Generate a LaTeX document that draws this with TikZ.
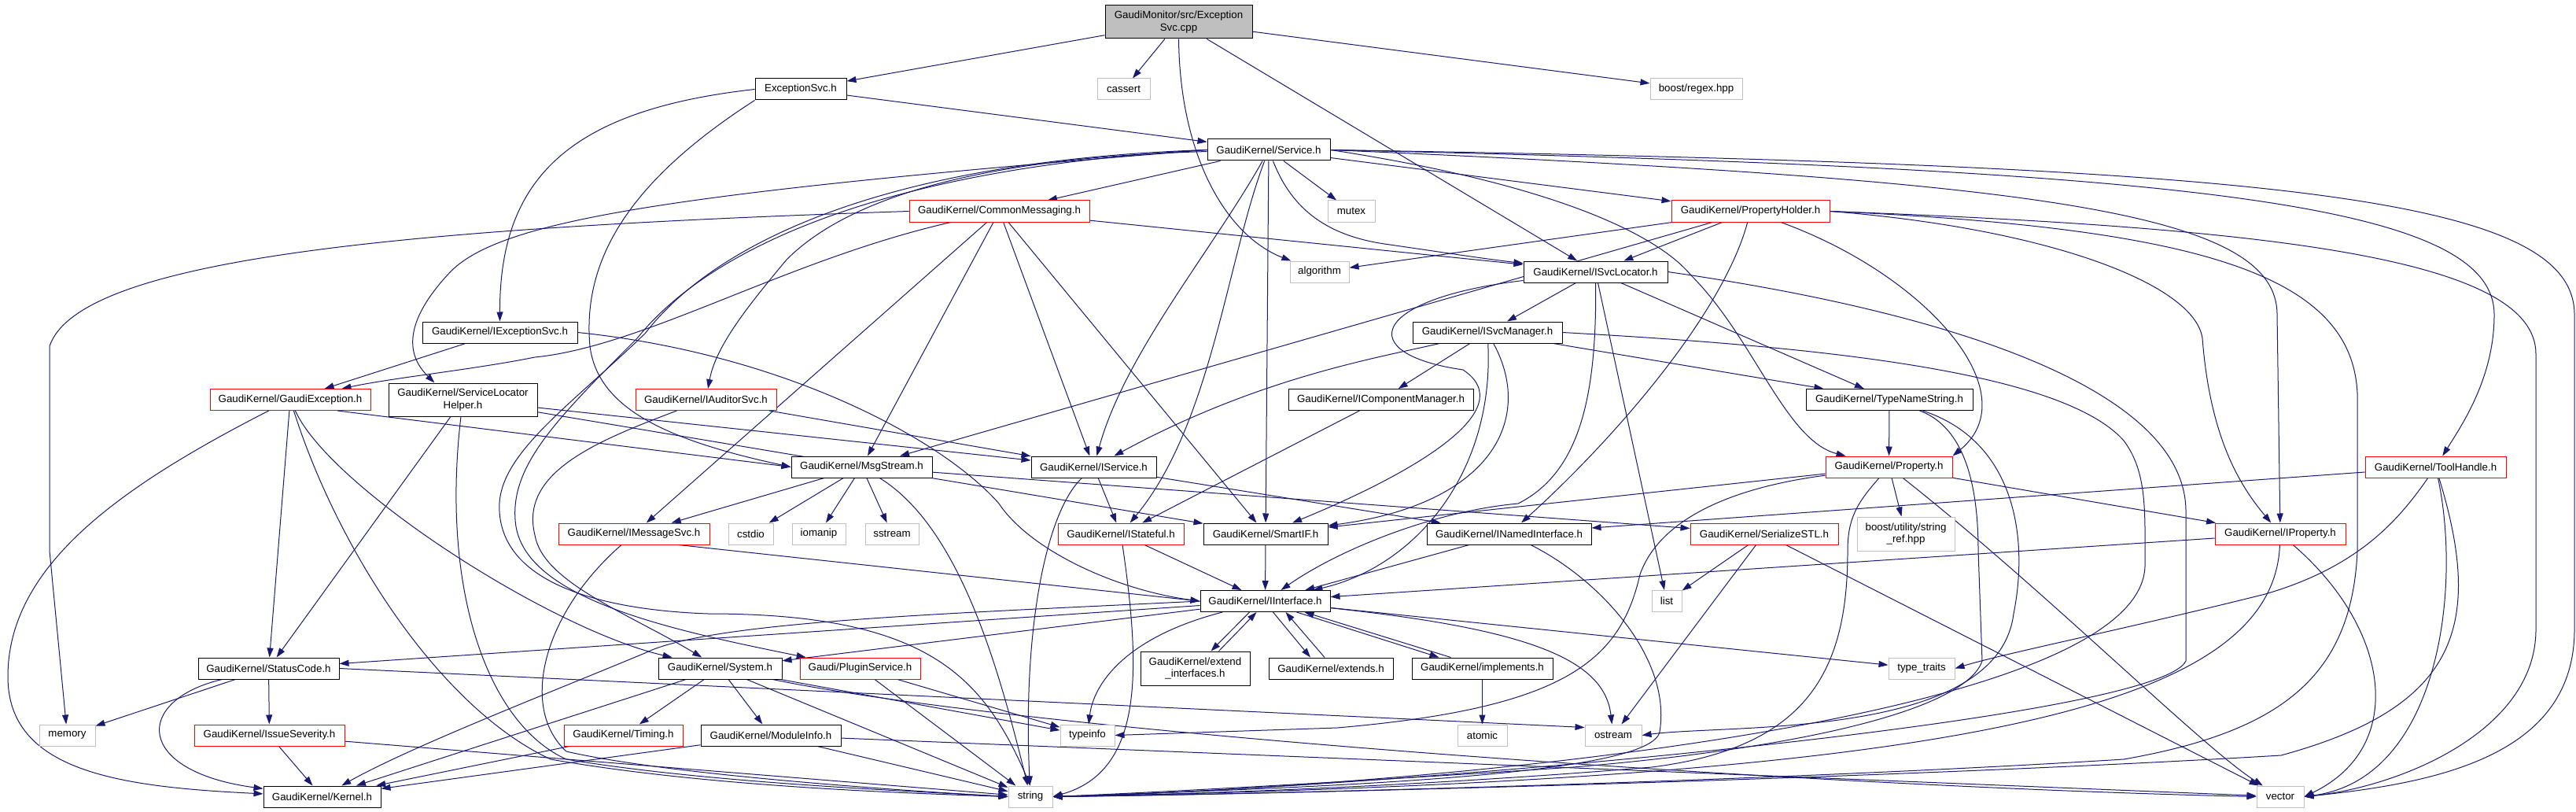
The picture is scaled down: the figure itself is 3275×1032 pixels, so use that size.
\documentclass[tikz,border=0pt]{standalone}
\usepackage{fontspec}
\setmainfont{Liberation Sans}
\usetikzlibrary{arrows.meta}
\definecolor{edgeblue}{HTML}{191970}
\definecolor{lgray}{HTML}{BFBFBF}
\pgfdeclarelayer{edgelayer}
\pgfsetlayers{edgelayer,main}
\begin{document}
\begin{tikzpicture}[x=1pt,y=-1pt,
  box/.style={draw=black, fill=white, rectangle, inner sep=0pt, minimum height=27pt, font=\fontsize{13.3}{15.5}\selectfont, align=center, line width=1pt},
  sysbox/.style={box, draw=lgray},
  redbox/.style={box, draw=red},
  e/.style={draw=edgeblue, line width=1pt, -{Triangle[length=12pt,width=8pt]}}]
\useasboundingbox (0,0) rectangle (3275,1032);
% nodes
\node[box, fill=lgray, minimum width=187pt, minimum height=42pt] (root) at (1498.5,28) {GaudiMonitor/src/Exception\\Svc.cpp};
\node[box, minimum width=116pt] (exh) at (1018,113.5) {ExceptionSvc.h};
\node[sysbox, minimum width=67pt] (cassert) at (1428.5,113.5) {cassert};
\node[sysbox, minimum width=117pt] (regex) at (2156.5,113.5) {boost/regex.hpp};
\node[box, minimum width=156pt] (svc) at (1613,190.5) {GaudiKernel/Service.h};
\node[redbox, minimum width=229pt] (cm) at (1270.5,268.5) {GaudiKernel/CommonMessaging.h};
\node[sysbox, minimum width=60pt] (mutex) at (1718,268.5) {mutex};
\node[redbox, minimum width=201pt] (ph) at (2225.5,268.5) {GaudiKernel/PropertyHolder.h};
\node[sysbox, minimum width=75pt] (alg) at (1677.5,345.5) {algorithm};
\node[box, minimum width=183pt] (isl) at (2028.5,345.5) {GaudiKernel/ISvcLocator.h};
\node[box, minimum width=197pt] (iexc) at (635.5,422.5) {GaudiKernel/IExceptionSvc.h};
\node[box, minimum width=190pt] (ism) at (1891,422.5) {GaudiKernel/ISvcManager.h};
\node[redbox, minimum width=204pt] (gex) at (369,508) {GaudiKernel/GaudiException.h};
\node[box, minimum width=189pt, minimum height=42pt] (slh) at (588.5,508) {GaudiKernel/ServiceLocator\\Helper.h};
\node[redbox, minimum width=179pt] (ias) at (897.5,508) {GaudiKernel/IAuditorSvc.h};
\node[box, minimum width=235pt] (icm) at (1755.5,508) {GaudiKernel/IComponentManager.h};
\node[box, minimum width=212pt] (tns) at (2402,508) {GaudiKernel/TypeNameString.h};
\node[box, minimum width=179pt] (msg) at (1095.5,593.5) {GaudiKernel/MsgStream.h};
\node[box, minimum width=159pt] (isv) at (1390.5,593.5) {GaudiKernel/IService.h};
\node[redbox, minimum width=161pt] (prop) at (2401.5,593.5) {GaudiKernel/Property.h};
\node[redbox, minimum width=179pt] (th) at (3096.5,593.5) {GaudiKernel/ToolHandle.h};
\node[redbox, minimum width=192pt] (ims) at (806,678.5) {GaudiKernel/IMessageSvc.h};
\node[sysbox, minimum width=57pt] (cstdio) at (954.5,678.5) {cstdio};
\node[sysbox, minimum width=68pt] (iomanip) at (1041,678.5) {iomanip};
\node[sysbox, minimum width=68pt] (sstream) at (1134,678.5) {sstream};
\node[redbox, minimum width=160pt] (ist) at (1425,678.5) {GaudiKernel/IStateful.h};
\node[box, minimum width=158pt] (sif) at (1609,678.5) {GaudiKernel/SmartIF.h};
\node[box, minimum width=209pt] (ini) at (1918.5,678.5) {GaudiKernel/INamedInterface.h};
\node[redbox, minimum width=188pt] (sstl) at (2243,678.5) {GaudiKernel/SerializeSTL.h};
\node[sysbox, minimum width=124pt, minimum height=43pt] (sref) at (2423,678.5) {boost/utility/string\\\_ref.hpp};
\node[redbox, minimum width=166pt] (iprop) at (2899,678.5) {GaudiKernel/IProperty.h};
\node[box, minimum width=165pt] (iint) at (1608.5,764) {GaudiKernel/IInterface.h};
\node[sysbox, minimum width=38pt] (list) at (2119,764) {list};
\node[box, minimum width=179pt] (stc) at (341.5,849.5) {GaudiKernel/StatusCode.h};
\node[box, minimum width=157pt] (sys) at (915.5,849.5) {GaudiKernel/System.h};
\node[redbox, minimum width=153pt] (plug) at (1093.5,849.5) {Gaudi/PluginService.h};
\node[box, minimum width=139pt, minimum height=43pt] (exti) at (1519.5,849.5) {GaudiKernel/extend\\\_interfaces.h};
\node[box, minimum width=158pt] (exts) at (1692,849.5) {GaudiKernel/extends.h};
\node[box, minimum width=179pt] (impl) at (1884.5,849.5) {GaudiKernel/implements.h};
\node[sysbox, minimum width=84pt] (tt) at (2443,849.5) {type\_traits};
\node[sysbox, minimum width=71pt] (mem) at (85.5,934.5) {memory};
\node[redbox, minimum width=191pt] (isev) at (342.5,934.5) {GaudiKernel/IssueSeverity.h};
\node[redbox, minimum width=151pt] (tim) at (792.5,934.5) {GaudiKernel/Timing.h};
\node[box, minimum width=178pt] (mod) at (980,934.5) {GaudiKernel/ModuleInfo.h};
\node[sysbox, minimum width=69pt] (tinfo) at (1382.5,934.5) {typeinfo};
\node[sysbox, minimum width=63pt] (atomic) at (1884.5,934.5) {atomic};
\node[sysbox, minimum width=72pt] (ostream) at (2051,934.5) {ostream};
\node[box, minimum width=149pt] (kern) at (409.5,1012.5) {GaudiKernel/Kernel.h};
\node[sysbox, minimum width=56pt] (string) at (1310,1012.5) {string};
\node[sysbox, minimum width=60pt] (vector) at (2899,1012.5) {vector};
\begin{pgfonlayer}{edgelayer}
% edges: root
\draw[e] (root) -- (exh);
\draw[e] (root) -- (cassert);
\draw[e] (root.south) .. controls (1500,200) and (1560,300) .. (alg);
\draw[e] (root) -- (isl);
\draw[e] (root) -- (regex);
% ExceptionSvc.h
\draw[e] (exh) -- (svc);
\draw[e] (exh.west) .. controls (720,140) and (635,230) .. (iexc.north);
\draw[e] (exh.south west) .. controls (800,230) and (740,330) .. (750,440) .. controls (760,520) and (850,560) .. (msg.west);
% Service.h
\draw[e] (svc) -- (cm);
\draw[e] (svc) -- (mutex);
\draw[e] (svc) -- (ph);
\draw[e] (svc) .. controls (1640,260) and (1680,298) .. (1760,310) .. controls (1830,320) and (1880,328) .. (isl);
\draw[e] (svc.west) .. controls (850,245) and (640,280) .. (574,344) .. controls (530,390) and (505,440) .. ([xshift=-36pt]slh.north);
\draw[e] (svc) .. controls (1250,200) and (1080,250) .. (1000,330) .. controls (950,390) and (910,440) .. (ias);
\draw[e] (svc) .. controls (1540,320) and (1430,450) .. (isv);
\draw[e] (svc) .. controls (1560,330) and (1540,540) .. (ist);
\draw[e] (svc) -- (sif);
\draw[e] (svc.east) .. controls (1950,230) and (2100,290) .. (2150,350) .. controls (2230,430) and (2270,560) .. (prop);
\draw[e] (svc.east) .. controls (2600,230) and (2895,270) .. (2895,400) -- (iprop);
\draw[e] (svc.east) .. controls (2800,215) and (3171,260) .. (3171,400) .. controls (3171,480) and (3130,540) .. (th);
\draw[e] (svc.east) .. controls (2900,210) and (3273,250) .. (3273,400) -- (3273,800) .. controls (3273,960) and (3100,995) .. (vector.east);
\draw[e] (svc.west) .. controls (1100,205) and (900,320) .. (820,424) .. controls (720,520) and (630,580) .. (635,650) .. controls (640,740) and (760,775) .. (900,780) .. controls (1180,780) and (1250,860) .. (string.north);
\draw[e] (svc.west) .. controls (1090,215) and (890,330) .. (810,430) .. controls (710,530) and (650,590) .. (655,660) .. controls (660,760) and (850,800) .. (plug);
% CommonMessaging.h
\draw[e] (cm.west) .. controls (500,290) and (100,330) .. (63,440) -- (63,700) -- (mem);
\draw[e] (cm) .. controls (1000,330) and (820,440) .. (680,454) .. controls (600,470) and (500,480) .. (gex);
\draw[e] (cm) -- (ims);
\draw[e] (cm) -- (msg);
\draw[e] (cm) -- (isv);
\draw[e] (cm) -- (sif);
\draw[e] (cm) -- (isl);
% PropertyHolder.h
\draw[e] (ph) -- (alg);
\draw[e] (ph) -- (isl);
\draw[e] (ph) -- (msg);
\draw[e] (ph) .. controls (2190,400) and (2050,560) .. (ini);
\draw[e] (ph) .. controls (2450,350) and (2580,500) .. (prop.north east);
\draw[e] (ph.east) .. controls (2600,290) and (2790,360) .. (2800,430) .. controls (2810,560) and (2850,620) .. (iprop);
\draw[e] (ph.east) .. controls (2900,290) and (3224,330) .. (3224,450) -- (3224,800) .. controls (3224,930) and (3050,1000) .. (vector.east);
\draw[e] (ph.east) .. controls (2800,290) and (2990,350) .. (2997,500) -- (2997,700) .. controls (2990,860) and (2900,930) .. (2700,965) .. controls (2300,990) and (1700,1008) .. (string.east);
% ISvcLocator.h
\draw[e] (isl) -- (ism);
\draw[e] (isl) -- (tns);
\draw[e] (isl) .. controls (1740,380) and (1720,450) .. (1860,470) .. controls (1935,520) and (1800,600) .. (sif);
\draw[e] (isl) .. controls (2030,500) and (2010,600) .. (1930,640) .. controls (1820,650) and (1700,700) .. (iint);
\draw[e] (isl) -- (list);
\draw[e] (isl.east) .. controls (2500,400) and (2779,500) .. (2779,650) -- (2779,840) .. controls (2740,920) and (1700,1005) .. (string.east);
% IExceptionSvc.h
\draw[e] (iexc) -- (gex);
\draw[e] (iexc.east) .. controls (1000,450) and (1200,560) .. (1270,640) .. controls (1310,700) and (1420,750) .. (iint.west);
% GaudiException.h
\draw[e] (gex) .. controls (150,620) and (10,720) .. (10,860) .. controls (10,980) and (150,1000) .. (kern);
\draw[e] (gex) -- (stc);
\draw[e] (gex) .. controls (420,620) and (700,800) .. (sys);
\draw[e] (gex) .. controls (430,700) and (560,900) .. (700,965) .. controls (900,1000) and (1150,1008) .. (string.west);
\draw[e] ([xshift=60pt]gex.south) -- (msg.west);
% ServiceLocatorHelper.h
\draw[e] (slh) -- (isv);
\draw[e] (slh) -- (sif);
\draw[e] (slh) -- (stc);
\draw[e] (slh) .. controls (560,750) and (620,920) .. (720,965) .. controls (900,995) and (1150,1005) .. (string.west);
% IAuditorSvc.h
\draw[e] (ias) -- (isv);
\draw[e] (ias) .. controls (760,560) and (660,600) .. (680,680) .. controls (690,740) and (800,780) .. (sys);
% ISvcManager.h
\draw[e] (ism) -- (icm);
\draw[e] (ism) -- (tns);
\draw[e] (ism) .. controls (1750,455) and (1600,480) .. (isv);
\draw[e] (ism) .. controls (1950,530) and (1900,640) .. (sif);
\draw[e] (ism) .. controls (1900,600) and (1800,720) .. (iint);
\draw[e] (ism.east) .. controls (2300,440) and (2620,470) .. (2700,560) .. controls (2730,600) and (2727,650) .. (2727,720) .. controls (2720,920) and (1800,1000) .. (string.east);
% IComponentManager.h
\draw[e] (icm) -- (ist);
% TypeNameString.h
\draw[e] (tns) -- (prop);
\draw[e] (tns) .. controls (2560,560) and (2580,680) .. (2560,780) .. controls (2540,940) and (2200,920) .. (ostream.east);
\draw[e] (tns) .. controls (2490,540) and (2515,600) .. (2515,700) -- (2520,840) .. controls (2500,900) and (2300,950) .. (2000,975) .. controls (1700,995) and (1450,1008) .. (string.east);
% MsgStream.h
\draw[e] (msg) -- (ims);
\draw[e] (msg) -- (cstdio);
\draw[e] (msg) -- (iomanip);
\draw[e] (msg) -- (sstream);
\draw[e] (msg) .. controls (1220,670) and (1270,850) .. (string);
\draw[e] (msg) -- (sstl);
% IService.h
\draw[e] (isv) -- (ist);
\draw[e] (isv) -- (ini);
\draw[e] (isv) .. controls (1330,650) and (1300,800) .. (string);
% Property.h
\draw[e] (prop) -- (iprop);
\draw[e] (prop) -- (sref);
\draw[e] (prop) -- (sif);
\draw[e] (prop) .. controls (2200,620) and (2110,660) .. (2085,730) .. controls (2060,840) and (1990,900) .. (1700,925) -- (tinfo.east);
\draw[e] (prop) .. controls (2360,640) and (2349,660) .. (2349,700) .. controls (2349,850) and (2300,950) .. (2100,975) .. controls (1800,1000) and (1500,1010) .. (string.east);
\draw[e] (prop) .. controls (2600,750) and (2800,950) .. (vector);
% ToolHandle.h
\draw[e] (th) -- (ini);
\draw[e] (th) .. controls (3050,660) and (3000,720) .. (2880,755) .. controls (2700,800) and (2550,830) .. (tt.east);
\draw[e] (th) .. controls (3130,750) and (3100,990) .. (vector.east);
\draw[e] (th) .. controls (3160,800) and (3120,900) .. (2900,960) .. controls (2400,990) and (1600,1010) .. (string.east);
% IProperty.h
\draw[e] (iprop) -- (iint);
\draw[e] (iprop) .. controls (2890,900) and (2500,990) .. (string.east);
\draw[e] (iprop) .. controls (3040,800) and (3060,950) .. (vector.east);
% IMessageSvc.h, IStateful.h, SmartIF.h, INamedInterface.h
\draw[e] ([xshift=-40pt]ims.south east) -- (iint.west);
\draw[e] (ims) .. controls (690,780) and (660,900) .. (720,955) .. controls (850,985) and (1150,1005) .. (string.west);
\draw[e] (ist) -- (iint);
\draw[e] (ist) .. controls (1450,850) and (1455,980) .. (string.east);
\draw[e] (sif) -- (iint);
\draw[e] (ini) -- (iint);
\draw[e] (ini) .. controls (2040,740) and (2125,840) .. (2110,930) .. controls (2100,985) and (1700,1000) .. (string.east);
% SerializeSTL.h
\draw[e] (sstl) -- (list);
\draw[e] (sstl) -- (ostream);
\draw[e] (sstl) -- (vector);
% IInterface.h
\draw[e] (iint) -- (stc);
\draw[e] (iint) -- (sys);
\draw[e] (iint.west) .. controls (1200,780) and (900,790) .. (820,830) .. controls (700,880) and (520,950) .. (kern);
\draw[e] (iint) .. controls (1430,810) and (1390,870) .. (tinfo);
\draw[e] ([xshift=-20pt]iint.south) -- ([xshift=20pt]exti.north);
\draw[e] ([xshift=30pt]exti.north) -- ([xshift=-11pt]iint.south);
\draw[e] ([xshift=10pt]iint.south) -- ([xshift=-26pt]exts.north);
\draw[e] ([xshift=-8pt]exts.north) -- ([xshift=26pt]iint.south);
\draw[e] ([xshift=40pt]iint.south) -- ([xshift=-55pt]impl.north);
\draw[e] ([xshift=-40pt]impl.north) -- ([xshift=50pt]iint.south);
\draw[e] (iint) .. controls (1950,800) and (2040,840) .. (ostream);
\draw[e] (iint) -- (tt);
\draw[e] (impl) -- (atomic);
% StatusCode.h, IssueSeverity.h
\draw[e] (stc) -- (mem);
\draw[e] (stc) -- (isev);
\draw[e] (stc) .. controls (170,890) and (170,980) .. (kern);
\draw[e] (stc.east) -- ([yshift=10pt]ostream.west);
\draw[e] (isev) -- (kern);
\draw[e] (isev) -- (string);
% System.h, PluginService.h, Timing.h, ModuleInfo.h
\draw[e] (sys) -- (tim);
\draw[e] (sys) -- (mod);
\draw[e] (sys) -- (kern);
\draw[e] (sys) -- (string);
\draw[e] (sys) -- (tinfo);
\draw[e] (sys) .. controls (1300,930) and (2300,1000) .. (vector.west);
\draw[e] (plug) -- (tinfo);
\draw[e] (plug) -- (string);
\draw[e] (tim) -- (kern);
\draw[e] (mod) -- (kern);
\draw[e] (mod) -- (string);
\draw[e] (mod) -- (vector);
\end{pgfonlayer}
\end{tikzpicture}
\end{document}
